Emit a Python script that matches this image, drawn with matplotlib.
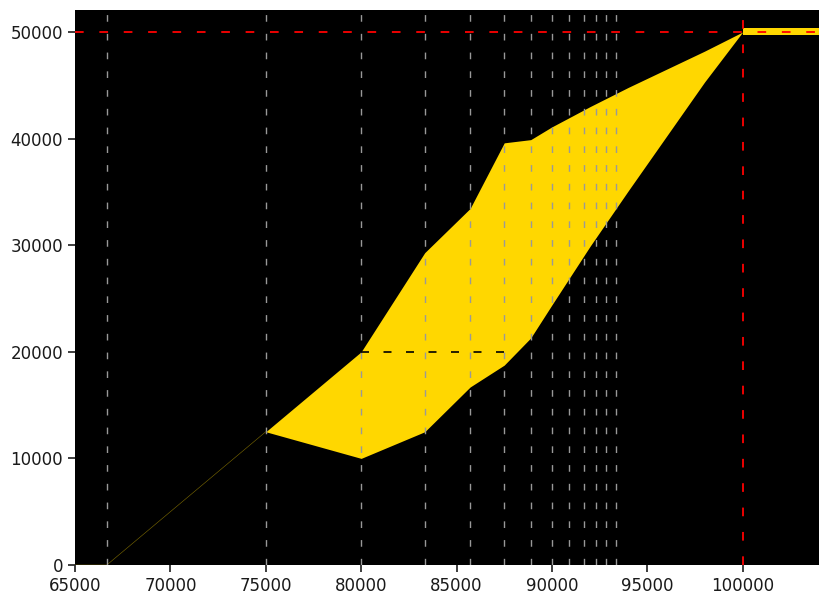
import numpy as np
import matplotlib
matplotlib.use("Agg")
import matplotlib.pyplot as plt

# --- data ---
x_pts = [65000, 66667, 75000, 80000, 83333, 85714, 87500, 88889, 90000,
         92000, 94000, 96000, 98000, 100000]
lower = [0, 0, 12500, 10000, 12500, 16700, 18750, 21300, 24400,
         29900, 35100, 40200, 45300, 50000]
upper = [0, 0, 12500, 20000, 29300, 33450, 39600, 39900, 41100,
         43000, 44800, 46500, 48200, 50000]

plateau_x = [100000, 104000]
plateau_low = [49700, 49700]
plateau_high = [50350, 50350]

marker_n = list(range(2, 15))            # vertical guides at n/(n+1)*100000
guide_x = [100000 * n / (n + 1) for n in marker_n]
target_y = 50000
target_x = 100000
ref_y = 20000
ref_x = [80000, 88200]

xticks = [65000, 70000, 75000, 80000, 85000, 90000, 95000, 100000]
yticks = [0, 10000, 20000, 30000, 40000, 50000]

fig = plt.figure(figsize=(8.32, 6.0), dpi=100)
ax = fig.add_axes([75 / 832, 35 / 600, (819 - 75) / 832, (565 - 10) / 600])
ax.set_facecolor("black")

gold = "#FFD700"
ax.fill_between(x_pts, lower, upper, color=gold, linewidth=0, zorder=2)
ax.plot(x_pts[:3], lower[:3], color=gold, lw=0.4, alpha=0.5, zorder=2)
ax.fill_between(plateau_x, plateau_low, plateau_high, color=gold, linewidth=0, zorder=2)

dash = (0, (4.8, 8.7))
for gx in guide_x:
    ax.axvline(gx, color="#999999", lw=1.0, linestyle=dash, zorder=3)
ax.axvline(target_x, color="red", lw=1.3, linestyle=dash, zorder=3)
ax.axhline(target_y, color="red", lw=1.3, linestyle=dash, zorder=4)
ax.plot(ref_x, [ref_y, ref_y], color="black", lw=1.2, linestyle=dash, zorder=4)

ax.set_xlim(65000, 104000)
ax.set_ylim(0, 52060)
ax.set_xticks(xticks)
ax.set_yticks(yticks)
ax.tick_params(axis="both", colors="#262626", labelsize=12, length=5, width=1.25,
               labelcolor="#1a1a1a")
for s in ax.spines.values():
    s.set_visible(False)

fig.savefig("out.png", dpi=100)
